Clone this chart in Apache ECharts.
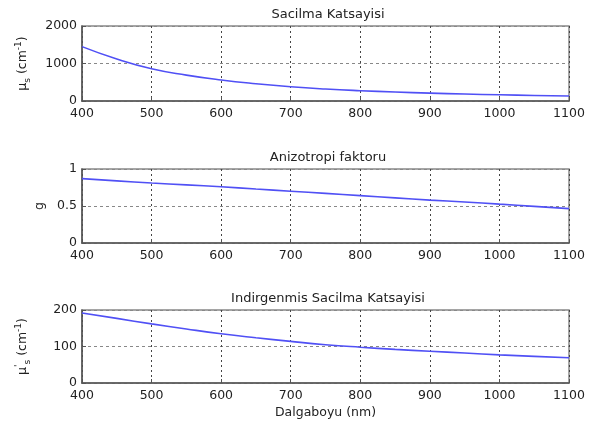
<!DOCTYPE html>
<html><head><meta charset="utf-8">
<script src="https://cdn.jsdelivr.net/npm/echarts@6/dist/echarts.min.js"></script>
<style>html,body{margin:0;padding:0;background:#fff}#c{width:591px;height:430px}</style>
</head><body><div id="c"></div>
<script>
const wavelengths = [400,450,500,550,600,650,700,750,800,850,900,950,1000,1050,1100];
const scattering = [1450,1120,860,690,560,460,380,320,275,240,210,185,165,148,132];
const anisotropy = [0.87,0.84,0.81,0.785,0.76,0.73,0.70,0.67,0.64,0.61,0.58,0.555,0.525,0.495,0.465];
const reduced = [192,177,162,148,135,124,114,105,98,92,87,82,77,73,69];
const titles = ['Sacilma Katsayisi','Anizotropi faktoru','Indirgenmis Sacilma Katsayisi'];
const xTicks = [400,500,600,700,800,900,1000,1100];
const yRanges = [[0,2000,1000],[0,1,0.5],[0,200,100]];

const FONT = 'DejaVu Sans';
const FS = 12.5;
const grids = [
  {left:82, top:26, width:487, height:75},
  {left:82, top:169, width:487, height:74},
  {left:82, top:310, width:487, height:73}
];
const nameRich = {
  a:{fontSize:FS, fontFamily:FONT, color:'#222'},
  s:{fontSize:9, fontFamily:FONT, color:'#222', verticalAlign:'bottom', lineHeight:18},
  p:{fontSize:9, fontFamily:FONT, color:'#222', verticalAlign:'top', lineHeight:18}
};
const yNames = ['{a|μ}{s|s}{a| (cm}{p|-1}{a|)}', '{a|g}', "{a|μ}{p|'}{s|s}{a| (cm}{p|-1}{a|)}"];
const yGaps = [50, 35, 50];
const series = [scattering, anisotropy, reduced];

const option = {
  animation:false,
  backgroundColor:'#fff',
  title: titles.map((t,i)=>({text:t, left:323, textAlign:'center', top:grids[i].top-23,
    textStyle:{fontSize:13, fontWeight:'normal', fontFamily:FONT, color:'#222'}})),
  grid: grids.map(g=>Object.assign({show:true, borderColor:'#888', borderWidth:1.5, backgroundColor:'transparent'}, g)),
  xAxis: grids.map((g,i)=>({
    type:'value', gridIndex:i, min:400, max:1100, interval:100,
    axisLine:{show:true, onZero:false, lineStyle:{color:'#555', width:1.5}},
    axisTick:{show:true, inside:true, length:4, lineStyle:{color:'#555'}},
    axisLabel:{fontSize:FS, fontFamily:FONT, color:'#222', margin:6, formatter:v=>String(v)},
    splitLine:{show:true, lineStyle:{color:'#444', type:[2,3], width:1}},
    name: i===2 ? 'Dalgaboyu (nm)' : '', nameLocation:'middle', nameGap:23,
    nameTextStyle:{fontSize:12.5, fontFamily:FONT, color:'#222'}
  })),
  yAxis: grids.map((g,i)=>({
    type:'value', gridIndex:i, min:yRanges[i][0], max:yRanges[i][1], interval:yRanges[i][2],
    axisLine:{show:true, onZero:false, lineStyle:{color:'#555', width:1.5}},
    axisTick:{show:true, inside:true, length:4, lineStyle:{color:'#555'}},
    axisLabel:{fontSize:FS, fontFamily:FONT, color:'#222', margin:5, formatter:v=>String(v)},
    splitLine:{show:true, lineStyle:{color:'#888', type:[3,3], width:1}},
    name: yNames[i], nameLocation:'middle', nameGap:yGaps[i], nameRotate:90,
    nameTextStyle:{rich:nameRich}
  })),
  series: series.map((d,i)=>({
    type:'line', xAxisIndex:i, yAxisIndex:i, smooth:true, symbol:'none',
    data: wavelengths.map((w,k)=>[w,d[k]]),
    lineStyle:{color:'#5050f5', width:1.6}
  }))
};
echarts.init(document.getElementById('c')).setOption(option);
</script></body></html>
